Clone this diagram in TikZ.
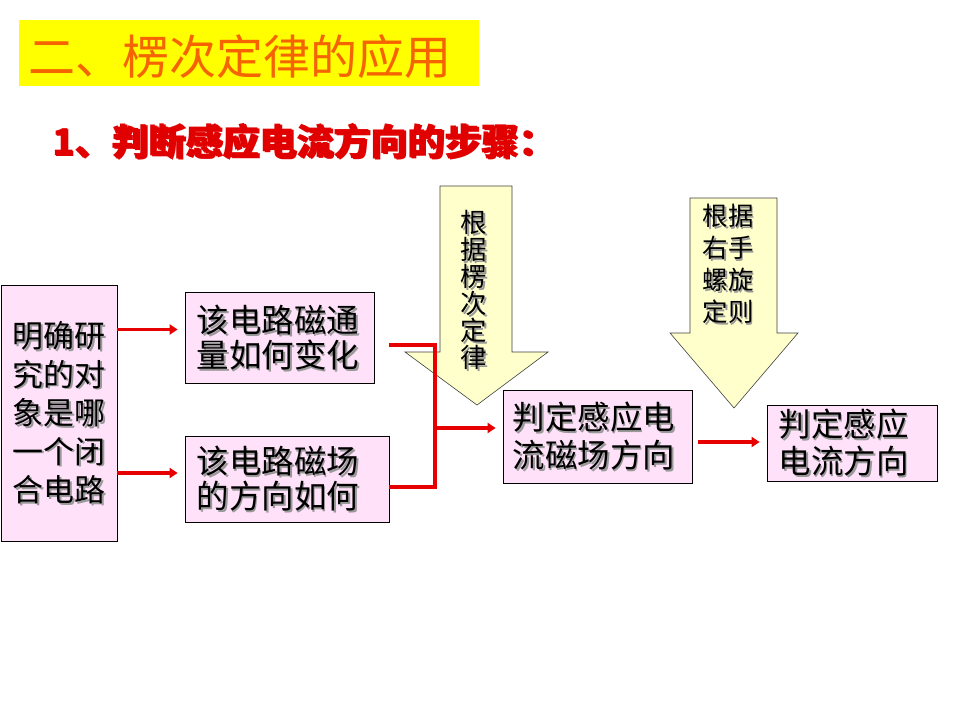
\documentclass[tikz,border=0pt]{standalone}
\usepackage{fontspec}
\newfontfamily\cjk{Noto Sans CJK SC}
\usetikzlibrary{arrows.meta,calc}
\definecolor{titleorange}{RGB}{245,100,0}
\definecolor{titleyellow}{RGB}{255,255,0}
\definecolor{subred}{RGB}{225,0,0}
\definecolor{boxpink}{RGB}{255,226,250}
\definecolor{hintyellow}{RGB}{255,255,204}
\definecolor{flowred}{RGB}{230,0,0}
\tikzset{
  stepbox/.style={draw=black, line width=0.8pt, fill=boxpink, inner sep=0pt},
  flow/.style={draw=flowred, line width=3.2pt, -{Triangle[length=8pt,width=10pt]}, shorten >=7pt},
  wire/.style={draw=flowred, line width=3.2pt},
  hint/.style={draw=black!75, line width=0.6pt, fill=hintyellow},
  boxtxt/.style={align=left, inner sep=0pt, text=black, font={\cjk\fontsize{32.5}{35}\selectfont}},
  shadowtxt/.style={boxtxt, text=black!40},
}
% text with a grey drop shadow
\newcommand{\shtext}[3][]{%
  \node[shadowtxt,#1] at ($(#2)+(1.6,1.6)$) {#3};
  \node[boxtxt,#1] at (#2) {#3};}

\begin{document}
\begin{tikzpicture}[x=1pt,y=-1pt]
  \useasboundingbox (0,0) rectangle (960,720);

  %% Title
  \node[fill=titleyellow, minimum width=460pt, minimum height=66pt, inner sep=0pt] (title) at (249,53) {};
  \node[anchor=west, inner sep=0pt, text=titleorange, font={\cjk\fontsize{47}{50}\selectfont}] at (28,57)
    {二、楞次定律的应用};
  \shtext[anchor=west, text=subred, font={\cjk\bfseries\fontsize{37}{40}\selectfont}]{52,141}{1、判断感应电流方向的步骤：}

  %% Hint arrows
  \draw[hint] (440,186) -- (512,186) -- (512,352) -- (548,352) -- (477,405) -- (405,352) -- (440,352) -- cycle;
  \draw[hint] (690,198) -- (777,198) -- (777,333) -- (798,333) -- (734,408) -- (670,333) -- (690,333) -- cycle;
  \shtext[align=center, font={\cjk\fontsize{26.5}{27}\selectfont}]{474,290}{根\\据\\楞\\次\\定\\律}
  \shtext[font={\cjk\fontsize{25.5}{32}\selectfont}]{728,264}{根据\\右手\\螺旋\\定则}

  %% Step boxes
  \node[stepbox, minimum width=116pt, minimum height=256pt] (circ) at (59,413) {};
  \node[stepbox, minimum width=189pt, minimum height=91pt] (flux) at (279.5,337.5) {};
  \node[stepbox, minimum width=204pt, minimum height=86pt] (field) at (287,479) {};
  \node[stepbox, minimum width=189pt, minimum height=93pt] (induced) at (597.5,436.5) {};
  \node[stepbox, minimum width=170pt, minimum height=76pt] (current) at (852,443) {};

  \shtext[font={\cjk\fontsize{31}{38.5}\selectfont}]{circ}{明确研\\究的对\\象是哪\\一个闭\\合电路}
  \shtext[anchor=west]{$(flux.west)+(12,0)$}{该电路磁通\\量如何变化}
  \shtext[anchor=west]{$(field.west)+(12,0)$}{该电路磁场\\的方向如何}
  \shtext[anchor=west, font={\cjk\fontsize{32.5}{38}\selectfont}]{$(induced.west)+(10,0)$}{判定感应电\\流磁场方向}
  \shtext[anchor=west, font={\cjk\fontsize{32.5}{37}\selectfont}]{$(current.west)+(12,0)$}{判定感应\\电流方向}

  %% Connectors
  \coordinate (jn) at (435,428);
  \coordinate (fluxin) at ([yshift=8pt]flux.west);
  \coordinate (fieldin) at ([yshift=6pt]field.west);
  \coordinate (fluxout) at ([shift={(15pt,-7.5pt)}]flux.east);
  \coordinate (fieldout) at ([yshift=-8pt]field.east);
  \coordinate (inducedout) at ([shift={(6pt,-5.5pt)}]induced.east);
  \draw[flow] (circ.east |- fluxin) -- (fluxin);
  \draw[flow] (circ.east |- fieldin) -- (fieldin);
  \draw[wire] (fluxout) -| (jn);
  \draw[wire] (fieldout) -| (jn);
  \draw[flow] (jn) -- (jn -| induced.west);
  \draw[flow] (inducedout) -- (inducedout -| current.west);
\end{tikzpicture}
\end{document}
